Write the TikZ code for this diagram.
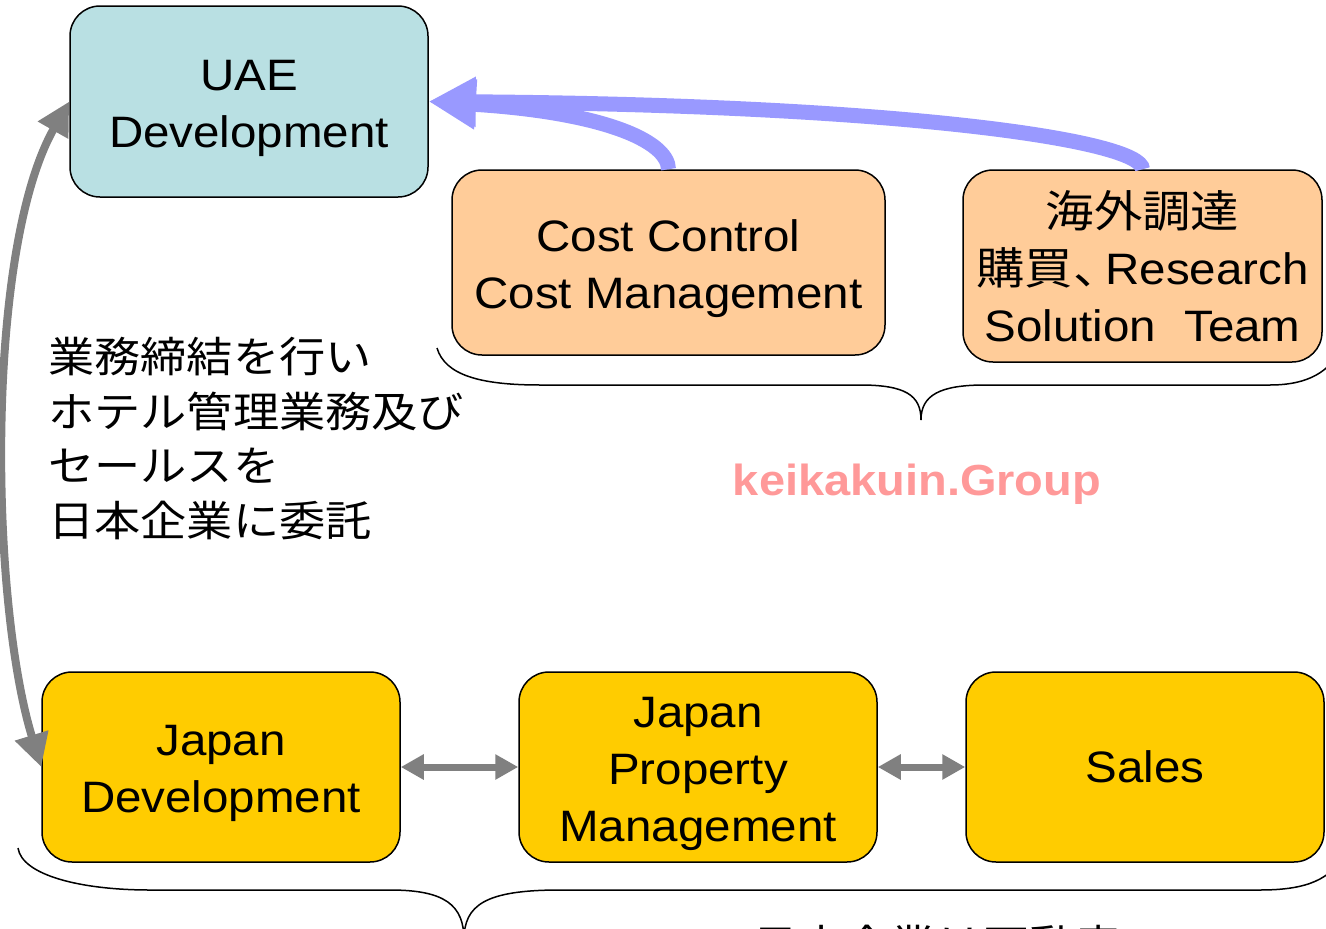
\documentclass[tikz,border=0pt]{standalone}
\usepackage{fontspec}
\setmainfont[FakeStretch=1.08]{Liberation Sans}
\newfontfamily\jp[FakeStretch=1.1]{Noto Sans CJK JP}
\usetikzlibrary{arrows.meta}
\definecolor{uaefill}{HTML}{B9E0E3}
\definecolor{peach}{HTML}{FFCC99}
\definecolor{gold}{HTML}{FFCC00}
\definecolor{lav}{HTML}{9999FF}
\definecolor{pinktxt}{HTML}{FF9999}
\definecolor{arrgray}{HTML}{808080}
\newcommand\topstrutx{\rule{0pt}{44pt}}
\begin{document}
\begin{tikzpicture}[x=1pt,y=-1pt,
  box/.style={draw=black, line width=1.5pt, rounded corners=30pt, align=center,
    inner sep=0pt, font=\fontsize{44}{57}\selectfont},
  brace/.style={draw=black, line width=1.5pt},
  bluearrow/.style={draw=lav, line width=15pt, -{Triangle[length=47pt,width=47pt]}},
  grayarrow/.style={draw=arrgray, line width=8pt, {Triangle[length=33pt,width=33pt]}-{Triangle[length=33pt,width=33pt]}},
  shortarrow/.style={draw=arrgray, line width=7pt, {Triangle[length=23pt,width=24pt]}-{Triangle[length=23pt,width=24pt]}},
  jptext/.style={inner sep=0pt, align=left, font=\jp\fontsize{42}{54.5}\selectfont}
]
\useasboundingbox (0,0) rectangle (1326,929);

% braces
\draw[brace] (437,348) .. controls (445,375) and (480,385) .. (540,385) -- (860,385)
  .. controls (905,385) and (921,395) .. (921,420)
  .. controls (921,395) and (940,385) .. (985,385) -- (1270,385)
  .. controls (1310,385) and (1330,370) .. (1340,350);
\draw[brace] (18,848) .. controls (22,875) and (80,890) .. (150,890) -- (390,890)
  .. controls (445,890) and (464,905) .. (464,940)
  .. controls (464,905) and (485,890) .. (560,890) -- (1260,890)
  .. controls (1310,890) and (1330,878) .. (1345,855);

% boxes
\node[box, fill=uaefill, minimum width=358pt, minimum height=191pt] (uae) at (249,101.5) {\topstrutx UAE\\Development};
\node[box, fill=peach, minimum width=433pt, minimum height=185pt] (cost) at (668.5,262.5) {\topstrutx Cost Control\\Cost Management};
\node[box, fill=peach, minimum width=359pt, minimum height=192pt] (kaigai) at (1142.5,266) {{\jp 海外調達}\\{\jp 購買、}\kern-16pt Research\\Solution\hspace{28pt}Team};
\node[box, fill=gold, minimum width=358pt, minimum height=190pt] (jdev) at (221,767) {\topstrutx Japan\\Development};
\node[box, fill=gold, minimum width=358pt, minimum height=190pt] (jpm) at (698,767) {\topstrutx Japan\\Property\\Management};
\node[box, fill=gold, minimum width=358pt, minimum height=190pt] (sales) at (1145,767) {Sales};

% arrows
\draw[bluearrow] (cost.north) .. controls (668,140) and (600,112) .. (uae.east);
\draw[bluearrow] (kaigai.north) .. controls (1142,140) and (900,105) .. (uae.east);
\draw[grayarrow] (jdev.west) .. controls (-10,600) and (-15,250) .. (uae.west);
\draw[shortarrow] (jdev.east) -- (jpm.west);
\draw[shortarrow] (jpm.east) -- (sales.west);

% texts
\node[jptext, anchor=base west] (note) at (48,536) {業務締結を行い\\ホテル管理業務及び\\セールスを\\日本企業に委託};
\node[inner sep=0pt, anchor=base, text=pinktxt, font=\fontsize{43.5}{52}\selectfont\bfseries] (group) at (917,495) {keikakuin.Group};
\node[jptext, anchor=base west] (bottom) at (752,960) {日本企業は不動産};
\end{tikzpicture}
\end{document}
